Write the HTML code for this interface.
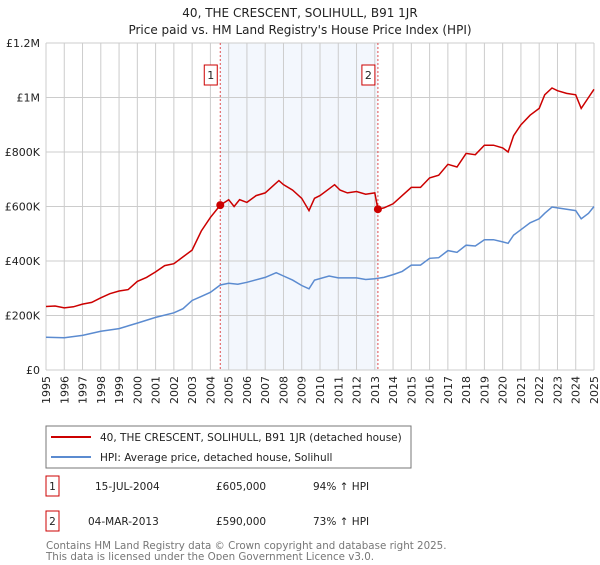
<!DOCTYPE html>
<html><head><meta charset="utf-8"><style>
body{margin:0;background:#fff;font-family:"Liberation Sans","DejaVu Sans",sans-serif;}
svg text{font-family:"DejaVu Sans","Liberation Sans",sans-serif;}
</style></head><body>
<svg id="c" width="600" height="560" xmlns="http://www.w3.org/2000/svg">
<text x="300" y="17" font-size="12" text-anchor="middle" fill="#222">40, THE CRESCENT, SOLIHULL, B91 1JR</text>
<text x="300" y="34" font-size="12" text-anchor="middle" fill="#222">Price paid vs. HM Land Registry's House Price Index (HPI)</text>
<g id="plot"></g>
<g>
<rect x="46" y="426" width="365" height="42" fill="#fff" stroke="#777"/>
<line x1="51" y1="437" x2="91" y2="437" stroke="#cc0000" stroke-width="2"/>
<text x="100" y="441" font-size="10.5" fill="#222">40, THE CRESCENT, SOLIHULL, B91 1JR (detached house)</text>
<line x1="51" y1="457" x2="91" y2="457" stroke="#5b8bd0" stroke-width="2"/>
<text x="100" y="461" font-size="10.5" fill="#222">HPI: Average price, detached house, Solihull</text>
</g>
<g>
<rect x="46" y="476" width="13" height="20" fill="#fff" stroke="#cc0000"/>
<text x="52.5" y="490" font-size="10.5" text-anchor="middle" fill="#222">1</text>
<text x="95" y="490" font-size="10.5" fill="#222">15-JUL-2004</text>
<text x="216" y="490" font-size="10.5" fill="#222">£605,000</text>
<text x="313" y="490" font-size="10.5" fill="#222">94% ↑ HPI</text>
<rect x="46" y="511" width="13" height="20" fill="#fff" stroke="#cc0000"/>
<text x="52.5" y="525" font-size="10.5" text-anchor="middle" fill="#222">2</text>
<text x="88" y="525" font-size="10.5" fill="#222">04-MAR-2013</text>
<text x="216" y="525" font-size="10.5" fill="#222">£590,000</text>
<text x="313" y="525" font-size="10.5" fill="#222">73% ↑ HPI</text>
</g>
<text x="46" y="549" font-size="10.3" fill="#777">Contains HM Land Registry data © Crown copyright and database right 2025.</text>
<text x="46" y="560" font-size="10.3" fill="#777">This data is licensed under the Open Government Licence v3.0.</text>
</svg>
<script>
const yearTicks=[1995,1996,1997,1998,1999,2000,2001,2002,2003,2004,2005,2006,2007,2008,2009,2010,2011,2012,2013,2014,2015,2016,2017,2018,2019,2020,2021,2022,2023,2024,2025];
const yTicks=[0,200000,400000,600000,800000,1000000,1200000];
const yTickLabels=["£0","£200K","£400K","£600K","£800K","£1M","£1.2M"];
const redT=[1995,1995.5,1996,1996.5,1997,1997.5,1998,1998.5,1999,1999.5,2000,2000.5,2001,2001.5,2002,2002.5,2003,2003.5,2004,2004.54,2005,2005.3,2005.6,2006,2006.5,2007,2007.5,2007.75,2008,2008.5,2009,2009.4,2009.7,2010,2010.5,2010.8,2011.1,2011.5,2012,2012.5,2013,2013.17,2013.5,2014,2014.5,2015,2015.5,2016,2016.5,2017,2017.5,2018,2018.5,2019,2019.5,2020,2020.3,2020.6,2021,2021.5,2022,2022.3,2022.7,2023,2023.5,2024,2024.3,2024.7,2025];
const redV=[233,235,228,232,242,248,265,280,290,295,325,340,360,383,390,415,440,510,560,605,625,600,625,615,640,650,680,695,680,660,630,585,630,640,665,680,660,650,655,645,650,590,595,610,640,670,670,705,715,755,745,795,790,825,825,815,800,860,900,935,960,1010,1035,1025,1015,1010,960,1000,1030];
const hpiT=[1995,1996,1997,1998,1999,2000,2001,2002,2002.5,2003,2003.5,2004,2004.54,2005,2005.5,2006,2007,2007.6,2008,2008.5,2009,2009.4,2009.7,2010.5,2011,2012,2012.5,2013,2013.5,2014,2014.5,2015,2015.5,2016,2016.5,2017,2017.5,2018,2018.5,2019,2019.5,2020,2020.3,2020.6,2021,2021.5,2022,2022.3,2022.7,2023,2023.5,2024,2024.3,2024.7,2025];
const hpiV=[120,118,127,142,152,172,193,210,225,255,270,285,312,318,315,322,340,357,345,330,310,298,330,345,338,338,332,335,340,350,362,385,385,410,412,438,432,458,455,478,478,470,465,495,515,540,555,575,598,595,590,585,555,575,600];
const saleT=[2004.54,2013.17];
const saleV=[605,590];
const saleLabels=["1","2"];

const NS="http://www.w3.org/2000/svg";
const L=46,R=594,T=43,B=370;
const x=t=>L+(t-1995)/30*(R-L);
const y=v=>B-v/1200000*(B-T);
const g=document.getElementById('plot');
function el(n,a){const e=document.createElementNS(NS,n);for(const k in a)e.setAttribute(k,a[k]);g.appendChild(e);return e;}
let e=el('rect',{x:x(saleT[0]),y:T,width:x(saleT[1])-x(saleT[0]),height:B-T,fill:'#eef3fc',opacity:0.7});


yearTicks.forEach(t=>{
 const l=el('line',{x1:x(t),x2:x(t),y1:T,y2:B,stroke:'#ccc','stroke-width':1});
 
 
 const tx=el('text',{x:0,y:0,'font-size':11,fill:'#222','text-anchor':'end',transform:`translate(${x(t)+4},${B+6}) rotate(-90)`});
 tx.textContent=t;
 
 
});
yTicks.forEach((v,i)=>{
 const l=el('line',{x1:L,x2:R,y1:y(v),y2:y(v),stroke:'#ccc','stroke-width':1});
 
 
 const tx=el('text',{x:L-6,y:y(v)+4,'font-size':11,fill:'#222','text-anchor':'end'});
 tx.textContent=yTickLabels[i];
 
 
});
saleT.forEach((t,i)=>{
 const l=el('line',{x1:x(t),x2:x(t),y1:T,y2:B,stroke:'#e05050','stroke-width':1,'stroke-dasharray':'2,2'});
 
 
});
const pts=(ts,vs)=>ts.map((t,i)=>x(t).toFixed(1)+','+y(vs[i]*1000).toFixed(1)).join(' ');
e=el('polyline',{points:pts(hpiT,hpiV),fill:'none',stroke:'#5b8bd0','stroke-width':1.5});


e=el('polyline',{points:pts(redT,redV),fill:'none',stroke:'#cc0000','stroke-width':1.5});


saleT.forEach((t,i)=>{
 const c=el('circle',{cx:x(t),cy:y(saleV[i]*1000),r:4,fill:'#cc0000'});
 
 
 const bx=x(t)-16;
 const r=el('rect',{x:bx,y:65,width:13,height:20,fill:'#fff',stroke:'#cc0000'});
 
 
 const tx=el('text',{x:bx+6.5,y:79,'font-size':11,fill:'#222','text-anchor':'middle'});
 tx.textContent=saleLabels[i];
 
 
});
</script>
</body></html>
